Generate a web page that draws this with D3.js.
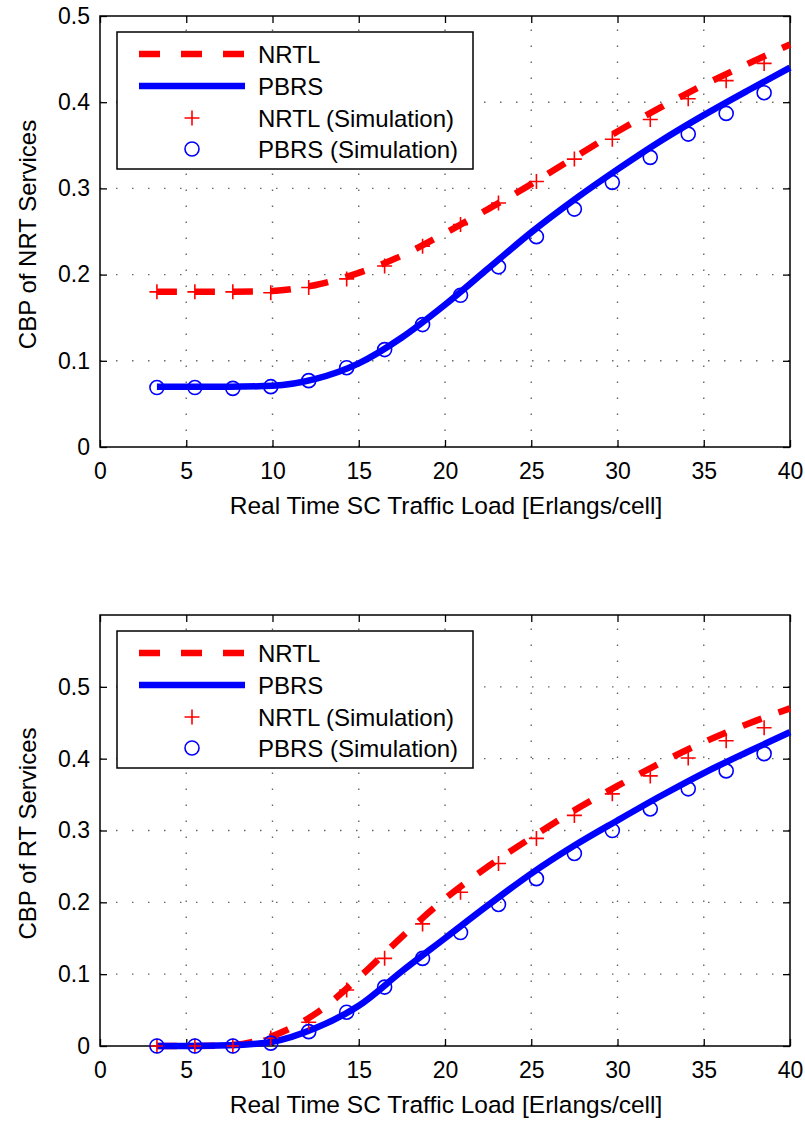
<!DOCTYPE html>
<html>
<head>
<meta charset="utf-8">
<script src="https://cdn.jsdelivr.net/npm/d3@7"></script>
<style>
  body { margin: 0; background: #fff; }
  svg { display: block; }
  text { font-family: "Liberation Sans", Arial, Helvetica, sans-serif; fill: #000; }
</style>
</head>
<body>
<div id="chart"></div>
<script>

// x positions of the simulation points and of the analytic curves
const simX = [3.3, 5.5, 7.7, 9.9, 12.1, 14.3, 16.5, 18.7, 20.9, 23.1, 25.3, 27.5, 29.7, 31.9, 34.1, 36.3, 38.5];
const curveX = [3.3, 5, 7.5, 10, 12.5, 15, 17.5, 20, 22.5, 25, 27.5, 30, 32.5, 35, 37.5, 40];

// top panel : CBP of NRT services
const nrtNrtlLine = [0.18, 0.18, 0.18, 0.181, 0.188, 0.202, 0.222, 0.248, 0.276, 0.305, 0.336, 0.366, 0.394, 0.42, 0.444, 0.467];
const nrtPbrsLine = [0.07, 0.07, 0.07, 0.071, 0.079, 0.097, 0.127, 0.165, 0.207, 0.249, 0.287, 0.322, 0.355, 0.385, 0.413, 0.44];
const nrtNrtlSim = [0.18, 0.18, 0.18, 0.179, 0.185, 0.195, 0.21, 0.233, 0.258, 0.283, 0.308, 0.334, 0.357, 0.38, 0.404, 0.425, 0.445];
const nrtPbrsSim = [0.069, 0.069, 0.068, 0.07, 0.077, 0.092, 0.113, 0.142, 0.176, 0.209, 0.244, 0.276, 0.307, 0.336, 0.363, 0.387, 0.411];

// bottom panel : CBP of RT services
const rtNrtlLine = [0, 0, 0.001, 0.014, 0.045, 0.095, 0.152, 0.205, 0.25, 0.29, 0.328, 0.362, 0.394, 0.423, 0.448, 0.47];
const rtPbrsLine = [0, 0, 0.001, 0.006, 0.025, 0.056, 0.104, 0.15, 0.196, 0.24, 0.279, 0.314, 0.348, 0.38, 0.409, 0.437];
const rtNrtlSim = [0, 0, 0, 0.011, 0.033, 0.078, 0.122, 0.17, 0.214, 0.254, 0.289, 0.321, 0.351, 0.376, 0.401, 0.425, 0.443];
const rtPbrsSim = [0, 0, 0, 0.004, 0.02, 0.047, 0.082, 0.122, 0.158, 0.197, 0.233, 0.268, 0.3, 0.33, 0.358, 0.383, 0.407];

const xTicks = [0, 5, 10, 15, 20, 25, 30, 35, 40];
const nrtYTicks = [0, 0.1, 0.2, 0.3, 0.4, 0.5];
const rtYTicks = [0, 0.1, 0.2, 0.3, 0.4, 0.5];

const legendLabels = ["NRTL", "PBRS", "NRTL (Simulation)", "PBRS (Simulation)"];
const xTitle = "Real Time SC Traffic Load [Erlangs/cell]";

const red = "#f00";
const blue = "#00f";

const width = 805, height = 1122;

var svg = d3.select("#chart").append("svg")
    .attr("width", width)
    .attr("height", height);

function panel(top, yMax, yTicks, yTitle, nrtlLine, pbrsLine, nrtlSim, pbrsSim){

    const left = 100, right = 790, plotH = 431;

    var x = d3.scaleLinear().domain([0, 40]).range([left, right]);
    var y = d3.scaleLinear().domain([0, yMax]).range([top + plotH, top]);

    var g = svg.append("g");

    // dotted grid
    g.append("g").selectAll("line.vgrid")
        .data(xTicks.filter(d => d > 0 && d < 40))
        .enter().append("line")
        .attr("x1", d => x(d)).attr("x2", d => x(d))
        .attr("y1", y(0)).attr("y2", y(yMax))
        .attr("stroke", "#666").attr("stroke-width", 1.4)
        .attr("stroke-dasharray", "1.5,14.5");
    g.append("g").selectAll("line.hgrid")
        .data(yTicks.filter(d => d > 0 && d < yMax))
        .enter().append("line")
        .attr("x1", x(0)).attr("x2", x(40))
        .attr("y1", d => y(d)).attr("y2", d => y(d))
        .attr("stroke", "#666").attr("stroke-width", 1.4)
        .attr("stroke-dasharray", "1.5,14.5");

    // axes with inward ticks
    var fmt = d => d === 0 ? "0" : d3.format("")(d);
    g.append("g")
        .attr("transform", "translate(0," + y(0) + ")")
        .call(d3.axisBottom(x).tickValues(xTicks).tickFormat(fmt).tickSizeInner(-7).tickSizeOuter(0).tickPadding(16));
    g.append("g")
        .attr("transform", "translate(" + left + ",0)")
        .call(d3.axisLeft(y).tickValues(yTicks).tickFormat(fmt).tickSizeInner(-7).tickSizeOuter(0).tickPadding(10));
    g.append("g")
        .attr("transform", "translate(0," + top + ")")
        .call(d3.axisTop(x).tickValues(xTicks).tickFormat("").tickSizeInner(-7).tickSizeOuter(0));
    g.append("g")
        .attr("transform", "translate(" + right + ",0)")
        .call(d3.axisRight(y).tickValues(yTicks).tickFormat("").tickSizeInner(-7).tickSizeOuter(0));

    g.selectAll(".domain").remove();
    g.selectAll(".tick line").attr("stroke", "#000").attr("stroke-width", 1.3);
    g.selectAll(".tick text")
        .attr("font-size", 23)
        .attr("font-family", "Liberation Sans, Arial, sans-serif")
        .attr("fill", "#111");

    // box
    g.append("rect")
        .attr("x", left).attr("y", top)
        .attr("width", right - left).attr("height", plotH)
        .attr("fill", "none").attr("stroke", "#000").attr("stroke-width", 1.5);

    // analytic curves
    var line = d3.line()
        .x((d, i) => x(curveX[i]))
        .y(d => y(d))
        .curve(d3.curveMonotoneX);

    g.append("path")
        .datum(nrtlLine)
        .attr("d", line)
        .attr("fill", "none")
        .attr("stroke", red)
        .attr("stroke-width", 6.5)
        .attr("stroke-dasharray", "20,18");

    g.append("path")
        .datum(pbrsLine)
        .attr("d", line)
        .attr("fill", "none")
        .attr("stroke", blue)
        .attr("stroke-width", 6.5);

    // simulation points
    g.append("g").selectAll("path.plus")
        .data(nrtlSim)
        .enter().append("path")
        .attr("d", "M-7.5,0H7.5M0,-7.5V7.5")
        .attr("transform", (d, i) => "translate(" + x(simX[i]) + "," + y(d) + ")")
        .attr("fill", "none")
        .attr("stroke", red)
        .attr("stroke-width", 1.6);

    g.append("g").selectAll("circle.sim")
        .data(pbrsSim)
        .enter().append("circle")
        .attr("cx", (d, i) => x(simX[i]))
        .attr("cy", d => y(d))
        .attr("r", 7)
        .attr("fill", "none")
        .attr("stroke", blue)
        .attr("stroke-width", 1.6);

    // axis titles
    g.append("text")
        .attr("x", (left + right) / 2 + 1)
        .attr("y", top + plotH + 67)
        .attr("text-anchor", "middle")
        .attr("font-size", 24.5)
        .text(xTitle);

    g.append("text")
        .attr("transform", "translate(36," + (top + plotH / 2 + 3) + ") rotate(-90)")
        .attr("text-anchor", "middle")
        .attr("font-size", 24)
        .text(yTitle);

    // legend
    var lg = g.append("g").attr("transform", "translate(117," + (top + 16) + ")");
    lg.append("rect")
        .attr("width", 356).attr("height", 137)
        .attr("fill", "#fff").attr("stroke", "#000").attr("stroke-width", 1.5);

    var rows = [22, 54, 86, 117];
    lg.append("line")
        .attr("x1", 22).attr("x2", 128).attr("y1", rows[0]).attr("y2", rows[0])
        .attr("stroke", red).attr("stroke-width", 6.5).attr("stroke-dasharray", "21,21");
    lg.append("line")
        .attr("x1", 22).attr("x2", 128).attr("y1", rows[1]).attr("y2", rows[1])
        .attr("stroke", blue).attr("stroke-width", 6.5);
    lg.append("path")
        .attr("d", "M-7.5,0H7.5M0,-7.5V7.5")
        .attr("transform", "translate(75," + rows[2] + ")")
        .attr("stroke", red).attr("stroke-width", 1.6).attr("fill", "none");
    lg.append("circle")
        .attr("cx", 75).attr("cy", rows[3]).attr("r", 7)
        .attr("fill", "none").attr("stroke", blue).attr("stroke-width", 1.6);

    lg.selectAll("text.lab")
        .data(legendLabels)
        .enter().append("text")
        .attr("x", 141)
        .attr("y", (d, i) => rows[i])
        .attr("dy", "0.36em")
        .attr("font-size", 24)
        .text(d => d);
}

panel(16, 0.5, nrtYTicks, "CBP of NRT Services", nrtNrtlLine, nrtPbrsLine, nrtNrtlSim, nrtPbrsSim);
panel(615, 0.6, rtYTicks, "CBP of RT Services", rtNrtlLine, rtPbrsLine, rtNrtlSim, rtPbrsSim);

</script>
</body>
</html>
